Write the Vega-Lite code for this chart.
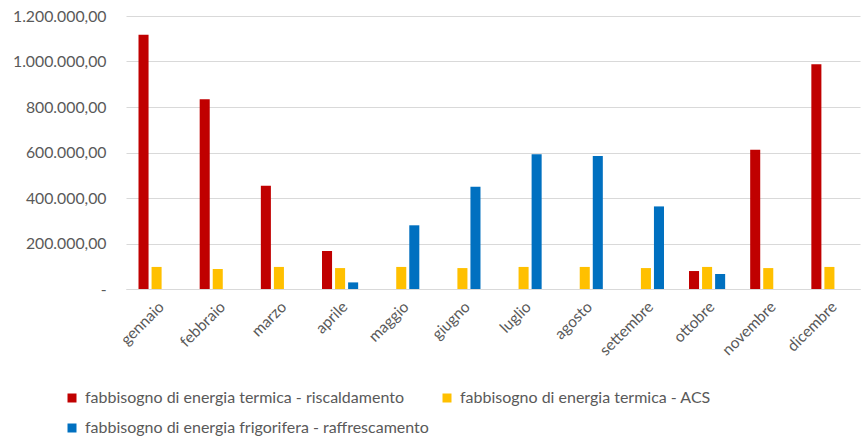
{
  "$schema": "https://vega.github.io/schema/vega-lite/v6.json",
  "autosize": {"type": "none"},
  "width": 734,
  "height": 273,
  "padding": {"left": 126, "top": 16, "right": 2, "bottom": 150},
  "background": "white",
  "config": {
    "locale": {"number": {"decimal": ",", "thousands": ".", "grouping": [3], "currency": ["€", ""]}},
    "view": {"stroke": null},
    "font": "Lato"
  },
  "data": {
    "values": [
      {"mese": "gennaio", "serie": "fabbisogno di energia termica - riscaldamento", "valore": 1118000},
      {"mese": "gennaio", "serie": "fabbisogno di energia termica  - ACS", "valore": 97000},
      {"mese": "febbraio", "serie": "fabbisogno di energia termica - riscaldamento", "valore": 834000},
      {"mese": "febbraio", "serie": "fabbisogno di energia termica  - ACS", "valore": 88000},
      {"mese": "marzo", "serie": "fabbisogno di energia termica - riscaldamento", "valore": 454000},
      {"mese": "marzo", "serie": "fabbisogno di energia termica  - ACS", "valore": 97000},
      {"mese": "aprile", "serie": "fabbisogno di energia termica - riscaldamento", "valore": 167000},
      {"mese": "aprile", "serie": "fabbisogno di energia termica  - ACS", "valore": 92000},
      {"mese": "aprile", "serie": "fabbisogno di energia frigorifera  - raffrescamento", "valore": 29000},
      {"mese": "maggio", "serie": "fabbisogno di energia termica  - ACS", "valore": 97000},
      {"mese": "maggio", "serie": "fabbisogno di energia frigorifera  - raffrescamento", "valore": 280000},
      {"mese": "giugno", "serie": "fabbisogno di energia termica  - ACS", "valore": 92000},
      {"mese": "giugno", "serie": "fabbisogno di energia frigorifera  - raffrescamento", "valore": 450000},
      {"mese": "luglio", "serie": "fabbisogno di energia termica  - ACS", "valore": 97000},
      {"mese": "luglio", "serie": "fabbisogno di energia frigorifera  - raffrescamento", "valore": 592000},
      {"mese": "agosto", "serie": "fabbisogno di energia termica  - ACS", "valore": 97000},
      {"mese": "agosto", "serie": "fabbisogno di energia frigorifera  - raffrescamento", "valore": 585000},
      {"mese": "settembre", "serie": "fabbisogno di energia termica  - ACS", "valore": 92000},
      {"mese": "settembre", "serie": "fabbisogno di energia frigorifera  - raffrescamento", "valore": 363000},
      {"mese": "ottobre", "serie": "fabbisogno di energia termica - riscaldamento", "valore": 79000},
      {"mese": "ottobre", "serie": "fabbisogno di energia termica  - ACS", "valore": 97000},
      {"mese": "ottobre", "serie": "fabbisogno di energia frigorifera  - raffrescamento", "valore": 66000},
      {"mese": "novembre", "serie": "fabbisogno di energia termica - riscaldamento", "valore": 612000},
      {"mese": "novembre", "serie": "fabbisogno di energia termica  - ACS", "valore": 92000},
      {"mese": "dicembre", "serie": "fabbisogno di energia termica - riscaldamento", "valore": 988000},
      {"mese": "dicembre", "serie": "fabbisogno di energia termica  - ACS", "valore": 97000}
    ]
  },
  "mark": {"type": "bar"},
  "encoding": {
    "x": {
      "field": "mese",
      "type": "nominal",
      "sort": ["gennaio", "febbraio", "marzo", "aprile", "maggio", "giugno", "luglio", "agosto", "settembre", "ottobre", "novembre", "dicembre"],
      "scale": {"paddingInner": 0.36, "paddingOuter": 0.18},
      "axis": {
        "title": null,
        "labelAngle": -45,
        "labelFontSize": 15.5,
        "labelColor": "#595959",
        "labelPadding": 10,
        "ticks": false,
        "domainColor": "#d9d9d9",
        "domainWidth": 1
      }
    },
    "xOffset": {
      "field": "serie",
      "type": "nominal",
      "scale": {
        "domain": ["fabbisogno di energia termica - riscaldamento", "fabbisogno di energia termica  - ACS", "fabbisogno di energia frigorifera  - raffrescamento"],
        "paddingInner": 0.23,
        "paddingOuter": 0.115
      }
    },
    "y": {
      "field": "valore",
      "type": "quantitative",
      "scale": {"domain": [0, 1200000], "nice": false},
      "axis": {
        "title": null,
        "values": [0, 200000, 400000, 600000, 800000, 1000000, 1200000],
        "labelExpr": "datum.value == 0 ? '-' : format(datum.value, ',.2f')",
        "labelFontSize": 15.8,
        "labelColor": "#595959",
        "labelPadding": 20,
        "ticks": false,
        "domain": false,
        "gridColor": "#d9d9d9",
        "gridWidth": 1
      }
    },
    "color": {
      "field": "serie",
      "type": "nominal",
      "scale": {
        "domain": ["fabbisogno di energia termica - riscaldamento", "fabbisogno di energia termica  - ACS", "fabbisogno di energia frigorifera  - raffrescamento"],
        "range": ["#C00000", "#FFC000", "#0070C0"]
      },
      "legend": {
        "title": null,
        "orient": "none",
        "legendX": -62,
        "legendY": 374,
        "direction": "horizontal",
        "columns": 2,
        "columnPadding": 6,
        "rowPadding": 14,
        "symbolType": "square",
        "symbolSize": 81,
        "symbolStrokeWidth": 0,
        "labelOffset": 5,
        "labelFontSize": 16,
        "labelColor": "#595959",
        "labelLimit": 500
      }
    }
  }
}
